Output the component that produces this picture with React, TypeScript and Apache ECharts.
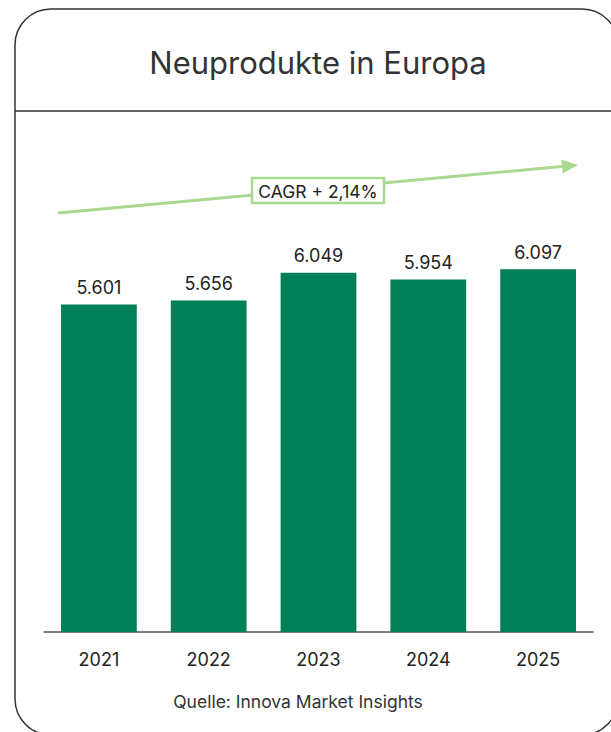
import React, { useEffect, useRef } from "react";
import * as echarts from "echarts";

const years = ["2021", "2022", "2023", "2024", "2025"];
const values = [5601, 5656, 6049, 5954, 6097];
const valueLabels = ["5.601", "5.656", "6.049", "5.954", "6.097"];
const titleText = "Neuprodukte in Europa";
const cagrText = "CAGR + 2,14%";
const sourceText = "Quelle: Innova Market Insights";

export default function App() {
  const ref = useRef<HTMLDivElement>(null);
  useEffect(() => {
    document.body.style.margin = "0";
    const chart = echarts.init(ref.current!, null, { renderer: "svg" });
    const green = "#a9d98e";
    const font = "Inter, 'Noto Sans', sans-serif";
    // arrow geometry
    const x1 = 58, y1 = 213, tx = 578, ty = 165;
    const dx = tx - x1, dy = ty - y1;
    const len = Math.sqrt(dx * dx + dy * dy);
    const ux = dx / len, uy = dy / len;
    const hl = 16, hw = 7;
    const bx = tx - hl * ux, by = ty - hl * uy;
    const px = -uy * hw, py = ux * hw;
    chart.setOption({
      animation: false,
      grid: { left: 44, right: 18, top: 148, bottom: 100 },
      xAxis: {
        type: "category",
        data: years,
        axisLine: { lineStyle: { color: "#555", width: 1.5 } },
        axisTick: { show: false },
        axisLabel: { color: "#222", fontSize: 18, margin: 18, fontFamily: font },
      },
      yAxis: { type: "value", min: 1000, max: 7800, show: false, splitLine: { show: false } },
      series: [
        {
          type: "bar",
          data: values,
          barCategoryGap: "31%",
          itemStyle: { color: "#017f59" },
          label: {
            show: true,
            position: "top",
            distance: 8,
            color: "#222",
            fontSize: 18,
            fontFamily: font,
            formatter: (p: any) => valueLabels[p.dataIndex],
          },
        },
      ],
      graphic: [
        {
          type: "rect",
          shape: { x: 15, y: 9, width: 603, height: 726, r: 36 },
          style: { fill: "none", stroke: "#333", lineWidth: 1.5 },
          silent: true,
        },
        {
          type: "line",
          shape: { x1: 15, y1: 111, x2: 611, y2: 111 },
          style: { stroke: "#333", lineWidth: 1.5 },
        },
        {
          type: "text",
          x: 318,
          y: 62,
          style: {
            text: titleText,
            fontSize: 31,
            fontFamily: font,
            fill: "#333",
            align: "center",
            verticalAlign: "middle",
          },
        },
        {
          type: "line",
          shape: { x1, y1, x2: bx + ux * 2, y2: by + uy * 2 },
          style: { stroke: green, lineWidth: 3 },
        },
        {
          type: "polygon",
          shape: { points: [[tx, ty], [bx + px, by + py], [bx - px, by - py]] },
          style: { fill: green },
        },
        {
          type: "rect",
          shape: { x: 252, y: 178, width: 132, height: 25 },
          style: { fill: "#fff", stroke: green, lineWidth: 2.5 },
        },
        {
          type: "text",
          x: 318,
          y: 191,
          style: {
            text: cagrText,
            fontSize: 17.5,
            fontFamily: font,
            fill: "#222",
            align: "center",
            verticalAlign: "middle",
          },
        },
        {
          type: "text",
          x: 298,
          y: 701,
          style: {
            text: sourceText,
            fontSize: 17.5,
            fontFamily: font,
            fill: "#333",
            align: "center",
            verticalAlign: "middle",
          },
        },
      ],
    });
    return () => chart.dispose();
  }, []);
  return (
    <div
      ref={ref}
      style={{ position: "absolute", left: 0, top: 0, width: 611, height: 732 }}
    />
  );
}
